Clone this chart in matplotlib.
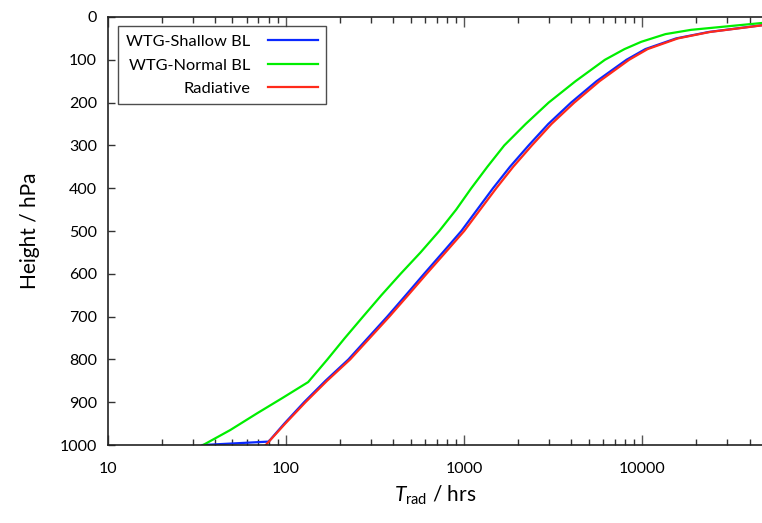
import matplotlib
matplotlib.use("Agg")
import matplotlib.pyplot as plt
from matplotlib.ticker import LogLocator, NullFormatter

plt.rcParams['font.family'] = ['Lato', 'DejaVu Sans']
plt.rcParams['mathtext.fontset'] = 'custom'
plt.rcParams['mathtext.rm'] = 'Lato'
plt.rcParams['mathtext.it'] = 'Lato:italic'

# Data (pressure in hPa, radiative timescale in hrs)
p_rad = [1000, 950, 900, 850, 800, 750, 700, 650, 600, 550, 500, 450, 400, 350,
         300, 250, 200, 150, 100, 75, 50, 35, 19.5]
t_rad = [76.9, 98.9, 128.5, 169.8, 229, 295, 380, 484, 615, 785, 1000, 1230, 1514, 1884,
         2399, 3090, 4150, 5754, 8433, 10715, 15850, 23990, 47000]

p_shallow = [1000, 992, 950, 900, 850, 800, 750, 700, 650, 600, 550, 500, 450, 400,
             350, 300, 250, 200, 150, 100, 75, 50, 35, 19.5]
t_shallow = [34, 79.8, 97.7, 126.2, 166.3, 223.9, 287.7, 369.8, 469.9, 595.7, 758.6, 963.9, 1183, 1452,
             1807, 2301, 2965, 3981, 5534, 8147, 10399, 15488, 23605, 46450]

p_normal = [1000, 965, 926, 890, 853, 800, 750, 700, 650, 600, 550, 500, 450, 400,
            350, 300, 250, 200, 150, 100, 75, 58, 40, 30, 14]
t_normal = [34.2, 48.6, 68.7, 95.5, 133, 170.6, 213.8, 270.4, 342.8, 439.5, 568.9, 724.4, 901.6, 1096,
            1349, 1679, 2213, 2979, 4217, 6166, 7943, 9860, 13490, 18800, 47000]

fig = plt.figure(figsize=(7.62, 5.23), dpi=100)
ax = fig.add_axes([0.1417, 0.1491, 0.8583, 0.8184])

ax.plot(t_shallow, p_shallow, color='#0a28ff', lw=1.6, label='WTG-Shallow BL')
ax.plot(t_normal, p_normal, color='#00ee00', lw=1.6, label='WTG-Normal BL')
ax.plot(t_rad, p_rad, color='#ff2a1a', lw=1.6, label='Radiative')

ax.set_xscale('log')
ax.set_xlim(10, 47000)
ax.set_ylim(1000, 0)
ax.set_yticks(range(0, 1001, 100))
ax.set_xticks([10, 100, 1000, 10000])
ax.set_xticklabels(['10', '100', '1000', '10000'])
ax.xaxis.set_minor_locator(LogLocator(base=10, subs=range(2, 10), numticks=20))
ax.xaxis.set_minor_formatter(NullFormatter())

ax.tick_params(axis='x', which='major', direction='in', top=True, bottom=True,
               length=7, width=1, color='#555555', labelsize=11.5, pad=12)
ax.tick_params(axis='x', which='minor', direction='in', top=True, bottom=True,
               length=4, width=1, color='#333333')
ax.tick_params(axis='y', which='major', direction='in', left=True, right=False,
               length=5, width=1, color='#333333', labelsize=11.5, pad=8)

ax.spines['right'].set_visible(False)
for s in ['left', 'bottom', 'top']:
    ax.spines[s].set_linewidth(1.2)
    ax.spines[s].set_color('#222222')

ax.set_xlabel(r'$T_{\rm rad}$ / hrs', fontsize=15, labelpad=6)
ax.set_ylabel('Height / hPa', fontsize=15, labelpad=14)

leg = ax.legend(loc='upper left', bbox_to_anchor=(0.0153, 0.978), markerfirst=False,
                fontsize=11.8, frameon=True, fancybox=False, edgecolor='#222222',
                handlelength=3.0, handletextpad=1.1, borderpad=0.5, labelspacing=0.55,
                borderaxespad=0)
leg.get_frame().set_linewidth(1.0)
for t in leg.get_texts():
    t.set_ha('right')

fig.savefig('out.png', dpi=100)
